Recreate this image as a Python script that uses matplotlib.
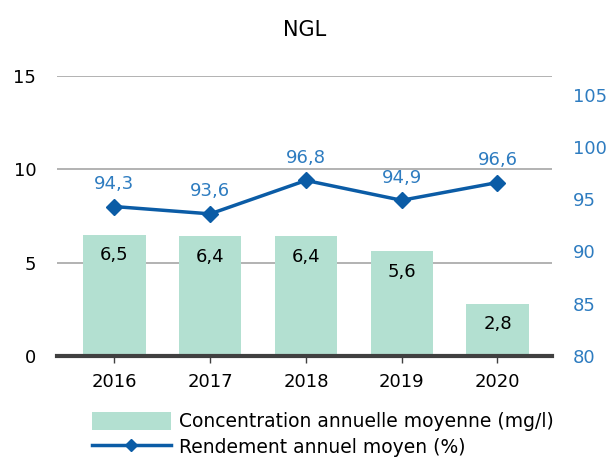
import matplotlib.pyplot as plt
import numpy as np
from matplotlib.patches import Patch
from matplotlib.lines import Line2D

years = ['2016', '2017', '2018', '2019', '2020']
concentration = [6.5, 6.4, 6.4, 5.6, 2.8]
rendement = [94.3, 93.6, 96.8, 94.9, 96.6]

bar_color = '#b3e0d1'
line_color = '#0b5ca6'
label_blue = '#2e7cc0'

plt.rcParams['font.family'] = ['DejaVu Sans']

fig = plt.figure(figsize=(6.1, 4.59), dpi=100)
ax = fig.add_axes([0.0934, 0.2245, 0.8116, 0.610])
x = np.arange(len(years))

# bars on the left axis
ax.bar(x, concentration, width=0.65, color=bar_color, zorder=2)
for xi, v in zip(x, concentration):
    ax.text(xi, v - 0.6, ('%.1f' % v).replace('.', ','), ha='center', va='top',
            fontsize=13, color='black', zorder=3)

ax.set_ylim(0, 15)
ax.set_xlim(-0.6, 4.57)
ax.set_yticks([0, 5, 10, 15])
ax.yaxis.grid(True, color='#a6a6a6', linewidth=1.2)
ax.set_axisbelow(True)
for s in ['top', 'right', 'left']:
    ax.spines[s].set_visible(False)
ax.spines['bottom'].set_color('#404040')
ax.spines['bottom'].set_linewidth(3)
ax.spines['bottom'].set_zorder(4)
ax.set_xticks(x)
ax.set_xticklabels(years, fontsize=13)
ax.tick_params(axis='x', length=5, width=1, color='#404040', pad=7)
ax.tick_params(axis='y', length=0, labelsize=13, pad=15)

# line on the right axis
ax2 = ax.twinx()
ax2.plot(x, rendement, color=line_color, linewidth=2.5, marker='D', markersize=8, zorder=5)
for xi, v in zip(x, rendement):
    ax2.text(xi, v + 1.3, ('%.1f' % v).replace('.', ','), ha='center', va='bottom',
             fontsize=13, color=label_blue)
ax2.set_ylim(80, 106.8)
ax2.set_yticks([80, 85, 90, 95, 100, 105])
ax2.tick_params(axis='y', length=0, labelsize=13, labelcolor=label_blue, pad=15)
for s in ['top', 'right', 'left', 'bottom']:
    ax2.spines[s].set_visible(False)

fig.text(0.5, 0.935, 'NGL', ha='center', va='center', fontsize=15)

handles = [Patch(facecolor=bar_color, edgecolor='none'),
           Line2D([0], [0], color=line_color, linewidth=2.5, marker='D', markersize=6)]
labels = ['Concentration annuelle moyenne (mg/l)', 'Rendement annuel moyen (%)']
fig.legend(handles, labels, loc='upper left', bbox_to_anchor=(0.151, 0.102),
           frameon=False, fontsize=13.5, handlelength=4.2, handleheight=1.05,
           labelspacing=0.35, handletextpad=0.45, borderaxespad=0, borderpad=0)

fig.savefig('out.png', dpi=100)
